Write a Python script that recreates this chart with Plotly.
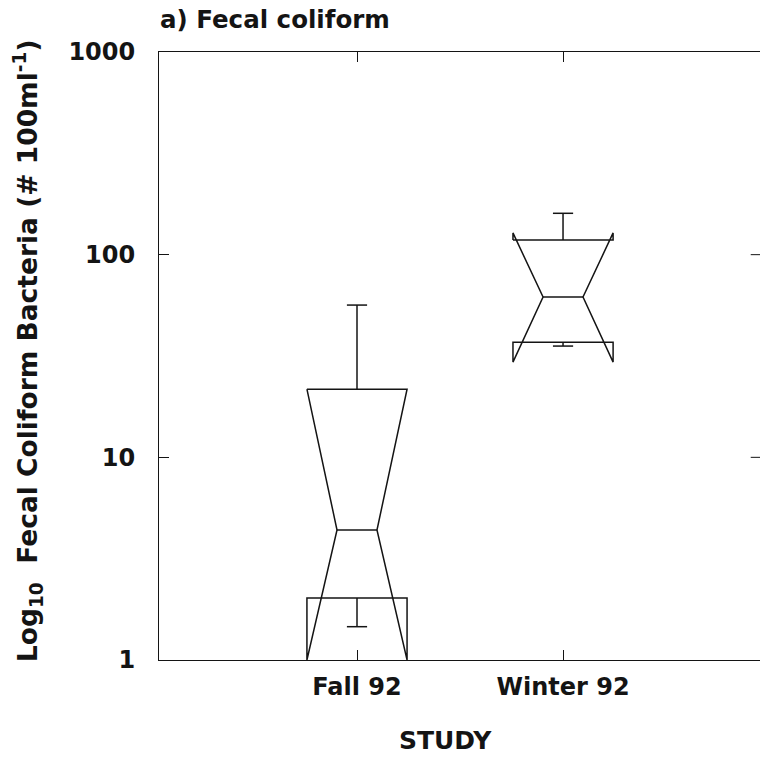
import plotly.graph_objects as go

# Fecal coliform counts (# per 100 ml) summarised per study
studies = ["Fall 92", "Winter 92"]
lower_whisker = [1.46, 35.4]
q1 = [2.02, 37.0]
median = [4.38, 61.8]
q3 = [21.7, 118]
upper_whisker = [56.4, 160]
notch_low = [1.0, 29.5]
notch_high = [21.7, 128]

y_tick_values = [1, 10, 100, 1000]
y_tick_labels = ["1", "10", "100", "1000"]

# drawing geometry (x units: one category = 1)
positions = [1, 2]
x_range = [0.039, 2.956]
box_half = 0.243
notch_half = 0.097
cap_half = 0.049
right_tick = 0.045
ink = "#141414"
font_family = "DejaVu Sans"

fig = go.Figure()

for i, c in enumerate(positions):
    xs = [c - box_half, c - box_half, c - notch_half, c - box_half, c - box_half,
          c + box_half, c + box_half, c + notch_half, c + box_half, c + box_half,
          c - box_half]
    ys = [q3[i], notch_high[i], median[i], notch_low[i], q1[i],
          q1[i], notch_low[i], median[i], notch_high[i], q3[i],
          q3[i]]
    # median bar
    xs += [None, c - notch_half, c + notch_half]
    ys += [None, median[i], median[i]]
    # whiskers and caps
    xs += [None, c, c, None, c - cap_half, c + cap_half]
    ys += [None, q3[i], upper_whisker[i], None, upper_whisker[i], upper_whisker[i]]
    xs += [None, c, c, None, c - cap_half, c + cap_half]
    ys += [None, q1[i], lower_whisker[i], None, lower_whisker[i], lower_whisker[i]]
    fig.add_trace(go.Scatter(
        x=xs, y=ys, mode="lines",
        line=dict(color=ink, width=1.5),
        showlegend=False, hoverinfo="skip", cliponaxis=False,
    ))

# tick marks along the right-hand frame edge
rx, ry = [], []
for v in y_tick_values[1:-1]:
    rx += [x_range[1] - right_tick, x_range[1], None]
    ry += [v, v, None]
fig.add_trace(go.Scatter(
    x=rx, y=ry, mode="lines", line=dict(color=ink, width=1),
    showlegend=False, hoverinfo="skip", cliponaxis=False,
))

fig.update_layout(
    width=760, height=757,
    margin=dict(l=159, r=0, t=52, b=97),
    paper_bgcolor="white", plot_bgcolor="white",
    font=dict(family=font_family, color=ink),
    xaxis=dict(
        range=x_range,
        tickmode="array", tickvals=positions, ticktext=studies,
        ticks="inside", ticklen=10, tickwidth=1, tickcolor=ink,
        showline=True, linecolor=ink, linewidth=1, mirror="ticks",
        showgrid=False, zeroline=False,
        tickfont=dict(family=font_family, size=24, weight="bold", color=ink),
        ticklabelstandoff=5,
    ),
    yaxis=dict(
        type="log", range=[0, 3],
        tickmode="array", tickvals=y_tick_values, ticktext=y_tick_labels,
        ticks="inside", ticklen=10, tickwidth=1, tickcolor=ink,
        showline=True, linecolor=ink, linewidth=1, mirror=False,
        showgrid=False, zeroline=False,
        tickfont=dict(family=font_family, size=24, weight="bold", color=ink),
        ticklabelstandoff=18,
    ),
    annotations=[
        dict(text="a) Fecal coliform", xref="paper", yref="paper",
             x=-0.002, y=1.0, xanchor="left", yanchor="bottom", yshift=16,
             showarrow=False,
             font=dict(family=font_family, size=24.5, weight="bold", color=ink)),
        dict(text="STUDY", xref="paper", yref="paper",
             x=(445 - 159) / 601, y=0, xanchor="center", yanchor="middle",
             yshift=-80, showarrow=False,
             font=dict(family=font_family, size=25, weight="bold", color=ink)),
        dict(text="Log<sub>10</sub>  Fecal Coliform Bacteria (# 100ml<sup>-1</sup>)",
             xref="paper", yref="paper",
             x=0, y=0.508, xanchor="center", yanchor="middle", xshift=-131,
             textangle=-90, showarrow=False,
             font=dict(family=font_family, size=26.5, weight="bold", color=ink)),
    ],
)

fig.write_html("out.html", config={"displayModeBar": False})
